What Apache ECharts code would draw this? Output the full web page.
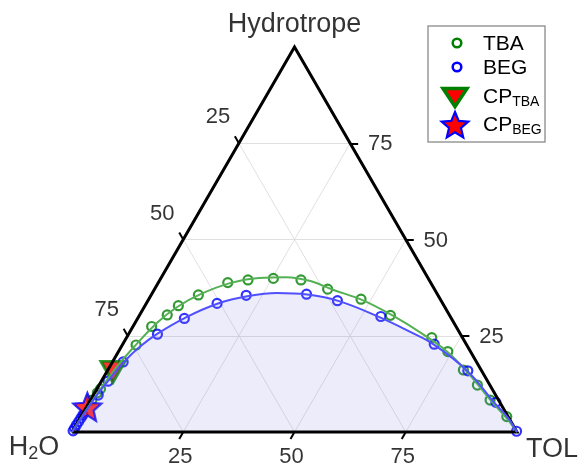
<!DOCTYPE html>
<html>
<head>
<meta charset="utf-8">
<script src="https://cdn.jsdelivr.net/npm/echarts@6/dist/echarts.min.js"></script>
<style>
html, body { margin: 0; padding: 0; background: #fff; }
#chart { width: 586px; height: 466px; }
</style>
</head>
<body>
<div id="chart"></div>
<script>
// ternary values: [TOL %, Hydrotrope %]  (H2O = 100 - TOL - Hydrotrope)
const ticks = [25, 50, 75];

const tbaPoints = [[0.3, 8.3], [0.6, 10.2], [0.8, 11.2], [3.1, 22.6], [4.2, 27.4], [6.2, 30.4], [7.5, 32.8],
  [10.6, 35.6], [15.6, 38.8], [19.8, 39.5], [25.3, 39.9], [31.7, 39.5], [38.9, 37.1], [47.7, 34.5],
  [56.4, 30.3], [68.6, 24.5], [74.0, 20.9], [79.9, 16.1], [85.0, 12.2], [89.8, 8.3], [95.7, 4.0]];

const begPoints = [[0.1, 0.3], [0.1, 1.0], [0.1, 1.8], [0.15, 2.7], [0.2, 3.6], [0.25, 4.4],
  [1.1, 9.6], [1.5, 13.2], [2.4, 18.2], [6.5, 25.4], [10.5, 29.5], [15.9, 33.4], [21.4, 35.5],
  [34.8, 35.8], [42.6, 34.1], [54.4, 30.0], [70.0, 22.8], [81.0, 15.9], [91.4, 7.7], [99.8, 0.2]];

// fitted curves
const tbaCurve = [[0, 0], [0.4, 6], [0.8, 11], [1.6, 17], [3, 22.5], [5, 28.5], [7.5, 32.6], [11, 35.8],
  [16, 38.6], [22, 40], [28, 40.2], [34, 39.2], [40, 37], [48, 34.3], [57, 30.2], [66, 25.5],
  [74, 20.8], [82, 14.8], [90, 8.2], [96, 3.5], [100, 0]];

const begCurve = [[0, 0], [0.3, 4], [0.8, 9.5], [1.5, 13.3], [2.6, 18.3], [4.2, 22.2], [6.5, 25.6],
  [10.5, 29.6], [16, 33.3], [22, 35.3], [28, 36.1], [35, 35.7], [43, 34], [54, 29.9], [63, 26],
  [70, 22.7], [81, 15.8], [91, 7.7], [96, 3.8], [100, 0]];

const cpTba = [[1.4, 15.6]];
const cpBeg = [[0.2, 6.5]];

const corners = [[0, 0], [100, 0], [0, 100]];   // H2O, TOL, Hydrotrope
const cornerNames = ['{a|H}{s|2}{a|O}', 'TOL', 'Hydrotrope'];

const S3 = Math.sqrt(3) / 2;
const toXY = p => [p[0] / 100 + p[1] / 200, p[1] / 100 * S3];
const FONT = 'Liberation Sans, Arial, sans-serif';
const TL = 1.8; // tick length in %

const starPath = 'path://M50,0 L63.2,31.8 L97.6,34.5 L71.4,57 L79.4,90.5 L50,72.5 L20.6,90.5 L28.6,57 L2.4,34.5 L36.8,31.8 Z';

function starPoints(cx, cy, r) {
  const pts = [];
  for (let i = 0; i < 10; i++) {
    const a = -Math.PI / 2 + i * Math.PI / 5;
    const rr = i % 2 ? r * 0.45 : r;
    pts.push([cx + rr * Math.cos(a), cy + rr * Math.sin(a)]);
  }
  return pts;
}

// grid lines of the three axes
const gridLines = [];
ticks.forEach(v => {
  gridLines.push({ coords: [toXY([v, 0]), toXY([v, 100 - v])] });          // TOL const
  gridLines.push({ coords: [toXY([0, v]), toXY([100 - v, v])] });          // Hydrotrope const
  gridLines.push({ coords: [toXY([100 - v, 0]), toXY([0, 100 - v])] });    // H2O const
});

const tickLines = [];
ticks.forEach(v => {
  tickLines.push({ coords: [toXY([v, 0]), toXY([v, -TL])] });
  tickLines.push({ coords: [toXY([0, 100 - v]), toXY([-TL, 100 - v + TL])] });
  tickLines.push({ coords: [toXY([100 - v, v]), toXY([100 - v + TL, v])] });
});

function tickLabelSeries(pts, offset) {
  return {
    type: 'scatter', symbol: 'circle', symbolSize: 1, clip: false, silent: true,
    itemStyle: { color: 'rgba(0,0,0,0)' },
    label: {
      show: true, position: 'inside', offset: offset,
      formatter: p => String(p.data.tick),
      color: '#000', fontSize: 22, fontFamily: FONT
    },
    data: pts
  };
}

const legendText = (x, y, txt) => ({
  type: 'text', x: x, y: y, z: 10,
  style: {
    text: txt, fill: '#000', font: '21px ' + FONT, verticalAlign: 'middle', align: 'left',
    rich: { a: { fontSize: 21, fontFamily: FONT }, s: { fontSize: 14, fontFamily: FONT, verticalAlign: 'bottom', padding: [11, 0, 0, 0] } }
  }
});

const chart = echarts.init(document.getElementById('chart'));
const option = {
  animation: false,
  grid: { left: 72, top: 47, width: 445, height: 385 },
  xAxis: { type: 'value', min: 0, max: 1, show: false },
  yAxis: { type: 'value', min: 0, max: S3, show: false },
  graphic: [
    { type: 'rect', shape: { x: 428, y: 26, width: 117, height: 116 },
      style: { fill: '#fff', stroke: '#999', lineWidth: 1.5 }, z: 5 },
    { type: 'circle', shape: { cx: 457, cy: 43, r: 4.3 }, z: 10,
      style: { fill: '#fff', stroke: '#008000', lineWidth: 2.5 } },
    { type: 'circle', shape: { cx: 457, cy: 67, r: 4.3 }, z: 10,
      style: { fill: '#fff', stroke: '#0000ff', lineWidth: 2.5 } },
    { type: 'polygon', shape: { points: [[443, 88.5], [467, 88.5], [455, 106.5]] }, z: 10,
      style: { fill: '#ff0000', stroke: '#008000', lineWidth: 3.5, lineJoin: 'miter' } },
    { type: 'polygon', shape: { points: starPoints(455, 126, 14) }, z: 10,
      style: { fill: '#ff0000', stroke: '#0000ff', lineWidth: 2.2, lineJoin: 'miter' } },
    legendText(483, 44, 'TBA'),
    legendText(483, 68, 'BEG'),
    legendText(483, 97, '{a|CP}{s|TBA}'),
    legendText(483, 125, '{a|CP}{s|BEG}')
  ],
  series: [
    // shaded region under the BEG curve
    { type: 'line', name: 'begArea', data: begCurve.map(toXY), smooth: 0.4, symbol: 'none', silent: true,
      lineStyle: { width: 0 }, areaStyle: { color: 'rgba(120,120,230,0.2)', origin: 'start' } },
    { type: 'lines', coordinateSystem: 'cartesian2d', silent: true, data: gridLines,
      lineStyle: { color: '#d8d8d8', width: 0.8, opacity: 1 } },
    { type: 'line', name: 'frame', data: [...corners, corners[0]].map(toXY), symbol: 'none', silent: true, clip: false,
      lineStyle: { color: '#000', width: 3, join: 'miter' } },
    { type: 'lines', coordinateSystem: 'cartesian2d', silent: true, clip: false, data: tickLines,
      lineStyle: { color: '#000', width: 2, opacity: 1 } },
    tickLabelSeries(ticks.map(v => ({ value: toXY([v, 0]), tick: v })), [-3, 25]),
    tickLabelSeries(ticks.map(v => ({ value: toXY([0, 100 - v]), tick: v })), [-21, -26]),
    tickLabelSeries(ticks.map(v => ({ value: toXY([100 - v, v]), tick: v })), [30, 1]),
    { type: 'scatter', symbol: 'circle', symbolSize: 1, clip: false, silent: true,
      itemStyle: { color: 'rgba(0,0,0,0)' },
      label: { show: true, position: 'inside', formatter: p => cornerNames[p.dataIndex], color: '#000',
        fontSize: 27, fontFamily: FONT,
        rich: { a: { fontSize: 27, fontFamily: FONT }, s: { fontSize: 18, fontFamily: FONT, verticalAlign: 'bottom', padding: [12, 0, 0, 0] } } },
      data: [
        { value: toXY(corners[0]), label: { offset: [-38, 16] } },
        { value: toXY(corners[1]), label: { offset: [35, 18] } },
        { value: toXY(corners[2]), label: { offset: [0, -22] } }
      ] },
    { type: 'line', name: 'tbaFit', data: tbaCurve.map(toXY), smooth: 0.4, symbol: 'none', silent: true,
      lineStyle: { color: '#55b055', width: 2 } },
    { type: 'line', name: 'begFit', data: begCurve.map(toXY), smooth: 0.4, symbol: 'none', silent: true,
      lineStyle: { color: '#5050ff', width: 2 } },
    { type: 'scatter', name: 'TBA', data: tbaPoints.map(toXY), symbol: 'circle', symbolSize: 9, clip: false,
      itemStyle: { color: 'rgba(255,255,255,0)', borderColor: '#008000', borderWidth: 2.2 } },
    { type: 'scatter', name: 'BEG', data: begPoints.map(toXY), symbol: 'circle', symbolSize: 9, clip: false,
      itemStyle: { color: 'rgba(255,255,255,0)', borderColor: '#0000ff', borderWidth: 2.2 } },
    { type: 'scatter', name: 'CPTBA', data: cpTba.map(toXY), symbol: 'triangle', symbolRotate: 180,
      symbolSize: [24, 21], clip: false,
      itemStyle: { color: '#ff0000', borderColor: '#008000', borderWidth: 3 } },
    { type: 'scatter', name: 'CPBEG', data: cpBeg.map(toXY), symbol: starPath,
      symbolSize: 28, clip: false,
      itemStyle: { color: '#ff0000', borderColor: '#0000ff', borderWidth: 2.2 } }
  ]
};
chart.setOption(option);
</script>
</body>
</html>
